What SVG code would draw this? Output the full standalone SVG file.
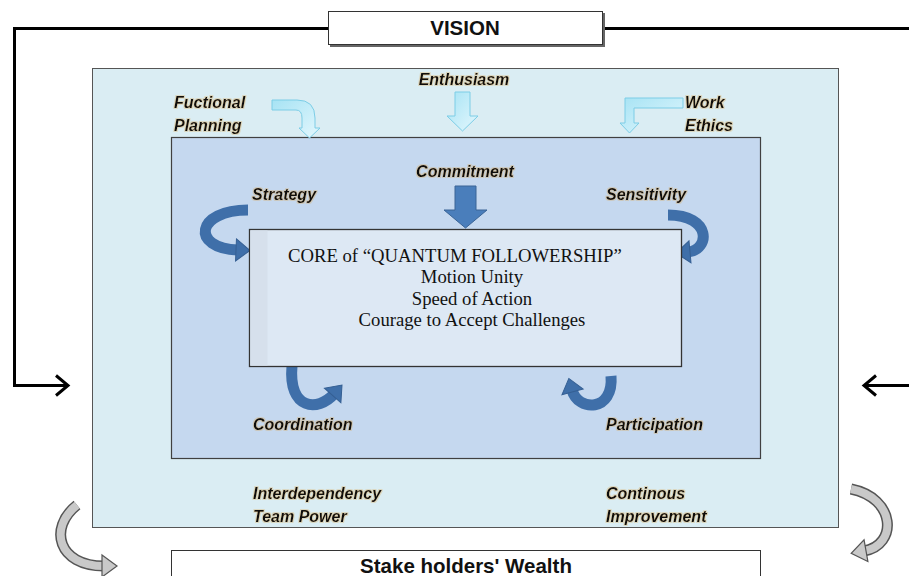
<svg xmlns="http://www.w3.org/2000/svg" width="909" height="576" viewBox="0 0 909 576">
  <defs>
    <style>
      .lbl { font-family: "Liberation Sans", Arial, sans-serif; font-size: 16px; font-weight: bold; font-style: italic; fill: #111; filter: url(#glow); }
      .core { font-family: "Liberation Serif", "Times New Roman", serif; font-size: 18.7px; fill: #111; }
      .title { font-family: "Liberation Sans", Arial, sans-serif; font-size: 20.5px; font-weight: bold; fill: #111; }
      .link { fill: none; stroke: #000; stroke-width: 3; }
      .blue { fill: none; stroke: #3f6fa9; stroke-width: 11; }
      .grayo { fill: none; stroke: #555; stroke-width: 11; }
      .grayi { fill: none; stroke: #c9c9c9; stroke-width: 8; }
      .cyan { fill: url(#cyanG); stroke: #7ccde6; stroke-width: 1; }
    </style>
    <filter id="glow" x="-10%" y="-30%" width="120%" height="160%">
      <feMorphology in="SourceAlpha" operator="dilate" radius="0.5" result="d"/>
      <feGaussianBlur in="d" stdDeviation="0.6" result="b"/>
      <feFlood flood-color="#d9a24a" flood-opacity="0.3"/>
      <feComposite in2="b" operator="in" result="g"/>
      <feMerge><feMergeNode in="g"/><feMergeNode in="SourceGraphic"/></feMerge>
    </filter>
    <linearGradient id="cyanG" x1="0" y1="0" x2="1" y2="1">
      <stop offset="0" stop-color="#a6e3f4"/>
      <stop offset="1" stop-color="#e4f7fd"/>
    </linearGradient>
    <marker id="chev" markerUnits="userSpaceOnUse" markerWidth="20" markerHeight="24" refX="14" refY="12" orient="auto" style="overflow:visible">
      <path d="M2,2 L14,12 L2,22" fill="none" stroke="#000" stroke-width="3"/>
    </marker>
    <marker id="bhead" markerUnits="userSpaceOnUse" markerWidth="30" markerHeight="30" refX="2" refY="12" orient="auto" style="overflow:visible">
      <path d="M0,1 L14,12 L0,23 Z" fill="#3f6fa9" stroke="#355f93" stroke-width="1"/>
    </marker>
    <marker id="ghead" markerUnits="userSpaceOnUse" markerWidth="30" markerHeight="30" refX="2" refY="12" orient="auto" style="overflow:visible">
      <path d="M0,1 L15,12 L0,23 Z" fill="#c9c9c9" stroke="#555" stroke-width="1.2"/>
    </marker>
  </defs>

  <rect width="909" height="576" fill="#fff"/>

  <!-- frames -->
  <g id="outer">
    <rect x="92.5" y="68.5" width="746" height="459" fill="#daedf3" stroke="#555" stroke-width="1"/>
  </g>
  <g id="inner">
    <rect x="171.5" y="137.5" width="589" height="321" fill="#c5d8ef" stroke="#404040" stroke-width="1.2"/>
  </g>

  <!-- connectors -->
  <g id="connectors">
    <path class="link" d="M328,28.5 H14.5 V385.5 H68" marker-end="url(#chev)"/>
    <path class="link" d="M603,28.5 H909"/>
    <path class="link" d="M909,385.5 H864" marker-end="url(#chev)"/>

    <!-- outer cyan arrows -->
    <path class="cyan" d="M272,100 L297,100 Q315,100 315,118 L315,128 L320,128 L309.5,138 L299,128 L302,128 L302,118 Q302,110 296,110 L272,110 Z"/>
    <path class="cyan" d="M455,92 L470,92 L470,116 L478,116 L462.5,131 L447,116 L455,116 Z"/>
    <path class="cyan" d="M683,98 L683,108 L634,108 L634,123 L639,123 L629.5,133 L620,123 L625,123 L625,98 Z"/>

    <!-- commitment arrow -->
    <path d="M455,186 L476,186 L476,210 L487,210 L465.5,228 L444,210 L455,210 Z" fill="#4a7ebb" stroke="#3a6496" stroke-width="1"/>

    <!-- curved blue arrows -->
    <path class="blue" d="M248,210 C196,210 190,248 238,250" marker-end="url(#bhead)"/>
    <path class="blue" d="M668,215 C712,215 710,250 688,252" marker-end="url(#bhead)"/>
    <path class="blue" d="M292,366 C288,410 318,412 334,394" marker-end="url(#bhead)"/>
    <path class="blue" d="M611,376 C614,412 578,412 572,390" marker-end="url(#bhead)"/>

    <!-- gray curved arrows -->
    <path class="grayo" d="M77,505 C48,528 58,566 104,566"/>
    <path class="grayi" d="M77,505 C48,528 58,566 104,566" marker-end="url(#ghead)"/>
    <path class="grayo" d="M851,489 C896,498 898,545 864,551"/>
    <path class="grayi" d="M851,489 C896,498 898,545 864,551" marker-end="url(#ghead)"/>
  </g>

  <!-- core -->
  <g id="core">
    <rect x="249.5" y="229.5" width="432" height="137" fill="#dde8f4" stroke="#333" stroke-width="1.3"/>
    <rect x="250.5" y="230.5" width="17" height="135" fill="#d6e0ec"/>
    <text class="core" x="288" y="262">CORE of “QUANTUM FOLLOWERSHIP”</text>
    <text class="core" x="472" y="283" text-anchor="middle">Motion Unity</text>
    <text class="core" x="472" y="305" text-anchor="middle">Speed of Action</text>
    <text class="core" x="472" y="326" text-anchor="middle">Courage to Accept Challenges</text>
  </g>

  <g id="vision">
    <rect x="330" y="13" width="275" height="34" fill="#666"/>
    <rect x="328.5" y="11.5" width="274" height="33" fill="#fff" stroke="#333" stroke-width="1"/>
    <text class="title" x="465" y="35" text-anchor="middle">VISION</text>
  </g>

  <g id="stakeholders">
    <rect x="171.5" y="550.5" width="589" height="30" fill="#fff" stroke="#333" stroke-width="1"/>
    <text class="title" x="466" y="573" text-anchor="middle">Stake holders' Wealth</text>
  </g>

  <!-- labels -->
  <g id="labels">
    <text class="lbl" x="174" y="108">Fuctional</text>
    <text class="lbl" x="174" y="131">Planning</text>
    <text class="lbl" x="464" y="85" text-anchor="middle">Enthusiasm</text>
    <text class="lbl" x="685" y="108">Work</text>
    <text class="lbl" x="685" y="131">Ethics</text>
    <text class="lbl" x="465" y="177" text-anchor="middle">Commitment</text>
    <text class="lbl" x="252" y="200">Strategy</text>
    <text class="lbl" x="606" y="200">Sensitivity</text>
    <text class="lbl" x="253" y="430">Coordination</text>
    <text class="lbl" x="606" y="430">Participation</text>
    <text class="lbl" x="253" y="499">Interdependency</text>
    <text class="lbl" x="253" y="522">Team Power</text>
    <text class="lbl" x="606" y="499">Continous</text>
    <text class="lbl" x="606" y="522">Improvement</text>
  </g>
</svg>
